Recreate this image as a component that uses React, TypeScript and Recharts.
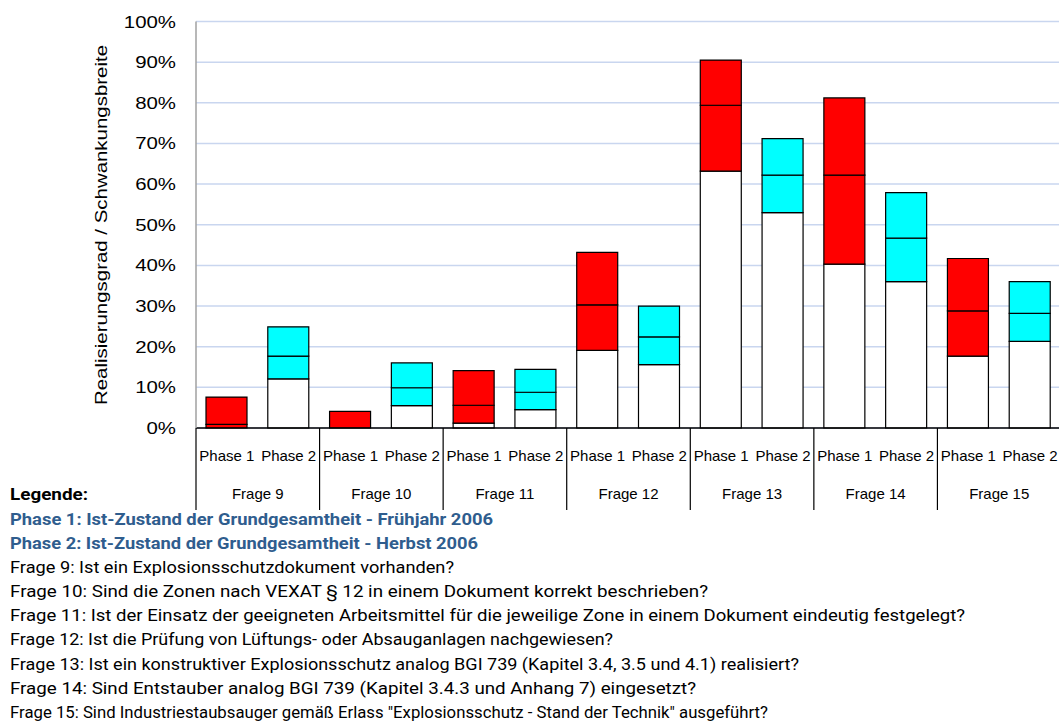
import React from "react";
import { BarChart, Bar, XAxis, YAxis, CartesianGrid, Cell } from "recharts";

const questions = ["Frage 9", "Frage 10", "Frage 11", "Frage 12", "Frage 13", "Frage 14", "Frage 15"];
const phases = ["Phase 1", "Phase 2"];
const phaseColors = ["#ff0000", "#00ffff"];

const phase1Min = [0, 0, 1.2, 19.1, 63.2, 40.3, 17.7];
const phase1Mean = [0.9, 0, 5.6, 30.3, 79.4, 62.2, 28.8];
const phase1Max = [7.6, 4.1, 14.1, 43.2, 90.5, 81.2, 41.7];
const phase2Min = [12.1, 5.5, 4.5, 15.6, 53.0, 36.0, 21.3];
const phase2Mean = [17.7, 9.9, 8.8, 22.4, 62.2, 46.7, 28.2];
const phase2Max = [24.9, 16.0, 14.4, 30.0, 71.2, 57.9, 36.0];

const yTicks = [0, 10, 20, 30, 40, 50, 60, 70, 80, 90, 100];
const yTitle = "Realisierungsgrad / Schwankungsbreite";

const legendTitle = "Legende:";
const legendPhases = [
  "Phase 1: Ist-Zustand der Grundgesamtheit - Frühjahr 2006",
  "Phase 2: Ist-Zustand der Grundgesamtheit - Herbst 2006",
];
const legendQuestions = [
  "Frage 9: Ist ein Explosionsschutzdokument vorhanden?",
  "Frage 10: Sind die Zonen nach VEXAT § 12 in einem Dokument korrekt beschrieben?",
  "Frage 11: Ist der Einsatz der geeigneten Arbeitsmittel für die jeweilige Zone in einem Dokument eindeutig festgelegt?",
  "Frage 12: Ist die Prüfung von Lüftungs- oder  Absauganlagen nachgewiesen?",
  "Frage 13: Ist ein konstruktiver Explosionsschutz analog BGI 739 (Kapitel 3.4, 3.5 und 4.1) realisiert?",
  "Frage 14: Sind Entstauber analog BGI 739 (Kapitel 3.4.3 und Anhang 7) eingesetzt?",
  "Frage 15: Sind Industriestaubsauger gemäß Erlass \"Explosionsschutz - Stand der Technik\" ausgeführt?",
];
const legendPhaseWidths = [483, 468];
const legendQuestionWidths = [444, 698, 955, 603, 789, 686, 758];

const mins = [phase1Min, phase2Min];
const means = [phase1Mean, phase2Mean];
const maxs = [phase1Max, phase2Max];

const data: any[] = [];
questions.forEach((q, qi) => {
  phases.forEach((p, pi) => {
    data.push({
      key: q + "|" + p,
      phase: p,
      question: q,
      phaseIndex: pi,
      base: mins[pi][qi],
      lower: means[pi][qi] - mins[pi][qi],
      upper: maxs[pi][qi] - means[pi][qi],
    });
  });
});

const CHART_W = 1061;
const CHART_H = 725;
const PLOT_LEFT = 196;
const PLOT_TOP = 21.5;
const PLOT_BOTTOM = 428;
const BAND = (CHART_W - PLOT_LEFT) / data.length;

const YTick = (props: any) => {
  const { x, y, payload } = props;
  const label = payload.value + "%";
  const digits = String(payload.value).length;
  const w = (digits * 0.556 + 0.889) * 17 * 1.2;
  return (
    <text
      x={176}
      y={y + 6}
      textAnchor="end"
      fontFamily="'Liberation Sans', Arial, sans-serif"
      fontSize={17}
      fill="#000"
      textLength={w}
      lengthAdjust="spacingAndGlyphs"
    >
      {label}
    </text>
  );
};

const XTick = (props: any) => {
  const { x, payload, index } = props;
  const row = data[index];
  const band = payload && payload.offset ? payload.offset * 2 : BAND;
  const half = band / 2;
  return (
    <g>
      <text
        x={x}
        y={461}
        textAnchor="middle"
        fontFamily="'Liberation Sans', Arial, sans-serif"
        fontSize={15}
        fill="#000"
      >
        {row ? row.phase : ""}
      </text>
      {index % 2 === 0 && (
        <>
          <line x1={x - half} x2={x - half} y1={PLOT_BOTTOM} y2={510} stroke="#000" strokeWidth={1.2} />
          <text
            x={x + half}
            y={499}
            textAnchor="middle"
            fontFamily="'Liberation Sans', Arial, sans-serif"
            fontSize={15}
            fill="#000"
          >
            {row ? row.question : ""}
          </text>
        </>
      )}
    </g>
  );
};

const legendFont = "'Liberation Sans Narrow', 'Roboto', 'Liberation Sans', sans-serif";

export default function App() {
  return (
    <div style={{ position: "absolute", left: 0, top: 0, width: 1059, height: 725, overflow: "hidden", background: "#fff" }}>
      <BarChart
        width={CHART_W}
        height={CHART_H}
        data={data}
        margin={{ top: PLOT_TOP, right: 0, left: 0, bottom: CHART_H - PLOT_BOTTOM - 90 }}
        barSize={41}
      >
        <CartesianGrid vertical={false} stroke="#c9d6ef" strokeWidth={1.5} />
        <XAxis
          dataKey="key"
          interval={0}
          height={90}
          axisLine={{ stroke: "#000", strokeWidth: 1.5 }}
          tickLine={false}
          tick={<XTick />}
        />
        <YAxis
          width={PLOT_LEFT}
          domain={[0, 100]}
          ticks={yTicks}
          interval={0}
          axisLine={{ stroke: "#a0a0a0", strokeWidth: 1.5 }}
          tickLine={false}
          tick={<YTick />}
        />
        <Bar dataKey="base" stackId="a" fill="#ffffff" stroke="#000" strokeWidth={1.2} isAnimationActive={false} />
        <Bar dataKey="lower" stackId="a" stroke="#000" strokeWidth={1.2} isAnimationActive={false}>
          {data.map((d) => (
            <Cell key={d.key} fill={phaseColors[d.phaseIndex]} />
          ))}
        </Bar>
        <Bar dataKey="upper" stackId="a" stroke="#000" strokeWidth={1.2} isAnimationActive={false}>
          {data.map((d) => (
            <Cell key={d.key} fill={phaseColors[d.phaseIndex]} />
          ))}
        </Bar>
      </BarChart>
      <svg
        width={1059}
        height={725}
        style={{ position: "absolute", left: 0, top: 0, pointerEvents: "none" }}
      >
        <text
          transform="translate(107,225) rotate(-90)"
          textAnchor="middle"
          fontFamily="'Liberation Sans', Arial, sans-serif"
          fontSize={17}
          fill="#000"
          textLength={360}
          lengthAdjust="spacingAndGlyphs"
        >
          {yTitle}
        </text>
        <text x={10} y={500} fontFamily={legendFont} fontSize={16} fontWeight="bold" fill="#000" textLength={78} lengthAdjust="spacingAndGlyphs">
          {legendTitle}
        </text>
        {legendPhases.map((t, i) => (
          <text
            key={t}
            x={10}
            y={524.5 + i * 24.2}
            fontFamily={legendFont}
            fontSize={16}
            fontWeight="bold"
            fill="#2f5d8e"
            textLength={legendPhaseWidths[i]}
            lengthAdjust="spacingAndGlyphs"
          >
            {t}
          </text>
        ))}
        {legendQuestions.map((t, i) => (
          <text
            key={t}
            x={10}
            y={572.8 + i * 24.2}
            fontFamily={legendFont}
            fontSize={16}
            fill="#000"
            textLength={legendQuestionWidths[i]}
            lengthAdjust="spacingAndGlyphs"
          >
            {t}
          </text>
        ))}
      </svg>
    </div>
  );
}
